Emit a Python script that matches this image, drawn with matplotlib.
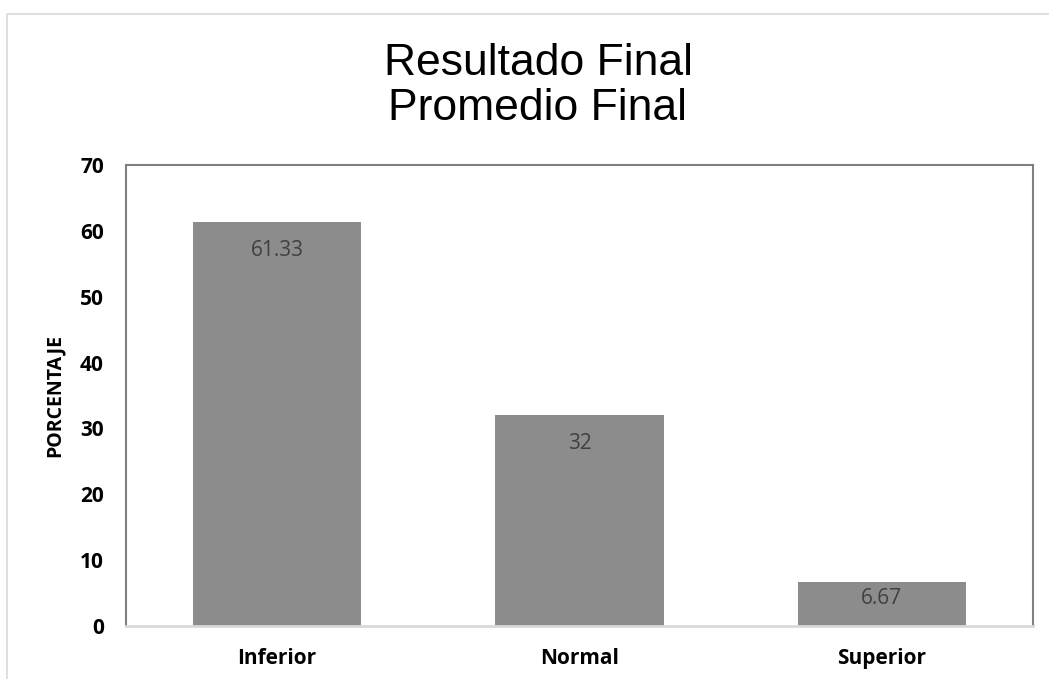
import numpy as np
import matplotlib
matplotlib.use("Agg")
import matplotlib.pyplot as plt
from matplotlib.patches import Rectangle

categories = ["Inferior", "Normal", "Superior"]
values = [61.33, 32, 6.67]
value_labels = ["61.33", "32", "6.67"]
y_ticks = [0, 10, 20, 30, 40, 50, 60, 70]

plt.rcParams['font.family'] = ['Open Sans', 'DejaVu Sans']

fig = plt.figure(figsize=(10.49, 6.79), dpi=100)
ax = fig.add_axes([126 / 1049, 1 - 626 / 679, (1033 - 126) / 1049, (626 - 165) / 679])

# outer chart border (only top and left visible in the crop)
fig.patches.append(Rectangle((7 / 1049, -0.05), 1.2, (679 - 14) / 679 + 0.05,
                             transform=fig.transFigure, fill=False,
                             edgecolor='#d9d9d9', linewidth=1.2))

x = np.arange(len(categories))
ax.bar(x, values, width=0.556, color='#8c8c8c', zorder=2)
for xi, v, lab in zip(x, values, value_labels):
    # inside-end label, pulled up when the bar is too short
    ly = max(v - 4.25, v * 0.62)
    ax.text(xi, ly, lab, ha='center', va='center', fontsize=15, color='#404040')

ax.set_xlim(-0.5, 2.5)
ax.set_ylim(0, 70)
ax.set_yticks(y_ticks)
ax.set_yticklabels([str(t) for t in y_ticks], fontsize=15, fontweight='bold')
ax.set_xticks(x)
ax.set_xticklabels(categories, fontsize=15, fontweight='bold')
ax.tick_params(axis='y', length=0, pad=16)
ax.tick_params(axis='x', length=0, pad=16)

for side in ['left', 'top', 'right']:
    ax.spines[side].set_color('#808080')
    ax.spines[side].set_linewidth(1.5)
ax.spines['bottom'].set_color('#d9d9d9')
ax.spines['bottom'].set_linewidth(2)

ax.set_ylabel('PORCENTAJE', fontsize=14, fontweight='bold')
ax.yaxis.set_label_coords(-0.068, 0.5)

fig.text(538 / 1049, 1 - 86 / 679, 'Resultado Final\nPromedio Final', ha='center', va='center',
         fontsize=32, family='Liberation Sans', linespacing=1.1)

fig.savefig('out.png', dpi=100)
